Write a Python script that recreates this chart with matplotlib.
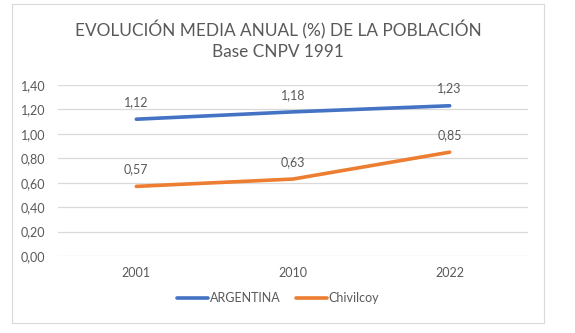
import numpy as np
import matplotlib.pyplot as plt
from matplotlib.patches import Rectangle

# %% DATA
years = ['2001', '2010', '2022']
argentina = [1.12, 1.18, 1.23]
chivilcoy = [0.57, 0.63, 0.85]
y_ticks = [0.0, 0.2, 0.4, 0.6, 0.8, 1.0, 1.2, 1.4]

# %% STYLE
plt.rcParams['font.family'] = ['Lato', 'DejaVu Sans']
text_grey = '#595959'
blue = '#4472C4'
orange = '#ED7D31'

W, H = 575, 333
fig = plt.figure(figsize=(W / 100, H / 100), dpi=100)

# outer chart frame
fig.patches.append(Rectangle((12 / W, 1 - 323 / H), (544 - 12) / W, (323 - 4) / H,
                             transform=fig.transFigure, fill=False,
                             edgecolor='#D9D9D9', linewidth=0.8))

ax = fig.add_axes([58 / W, 1 - 256 / H, (528 - 58) / W, (256 - 85) / H])

x = np.arange(len(years)) + 0.5
ax.plot(x, argentina, color=blue, linewidth=2.6, solid_capstyle='round', label='ARGENTINA')
ax.plot(x, chivilcoy, color=orange, linewidth=2.6, solid_capstyle='round', label='Chivilcoy')

for series in (argentina, chivilcoy):
    for xi, v in zip(x, series):
        ax.annotate(f'{v:.2f}'.replace('.', ','), (xi, v), xytext=(0, 8), textcoords='offset points',
                    ha='center', va='bottom', fontsize=9, color=text_grey)

ax.set_xlim(0, len(years))
ax.set_ylim(0, 1.4)
ax.set_xticks(x)
ax.set_xticklabels(years)
ax.set_yticks(y_ticks)
ax.set_yticklabels([f'{t:.2f}'.replace('.', ',') for t in y_ticks])
ax.tick_params(length=0, labelsize=9, colors=text_grey)
ax.tick_params(axis='y', pad=9)
ax.tick_params(axis='x', pad=8)
ax.grid(axis='y', color='#D9D9D9', linewidth=0.9)
ax.set_axisbelow(True)
for s in ax.spines.values():
    s.set_visible(False)

cx = 0.5 * (12 + 544) / W
fig.text(cx, 1 - 30 / H, 'EVOLUCIÓN MEDIA ANUAL (%) DE LA POBLACIÓN',
         ha='center', va='center', fontsize=12.4, color=text_grey)
fig.text(cx, 1 - 52 / H, 'Base CNPV 1991',
         ha='center', va='center', fontsize=12.4, color=text_grey)

fig.legend(loc='center', bbox_to_anchor=(cx, 1 - 298 / H), ncol=2,
           frameon=False, fontsize=9, labelcolor=text_grey, handlelength=2.5,
           handletextpad=0.15, columnspacing=1.2)

fig.savefig('out.png', dpi=100)
